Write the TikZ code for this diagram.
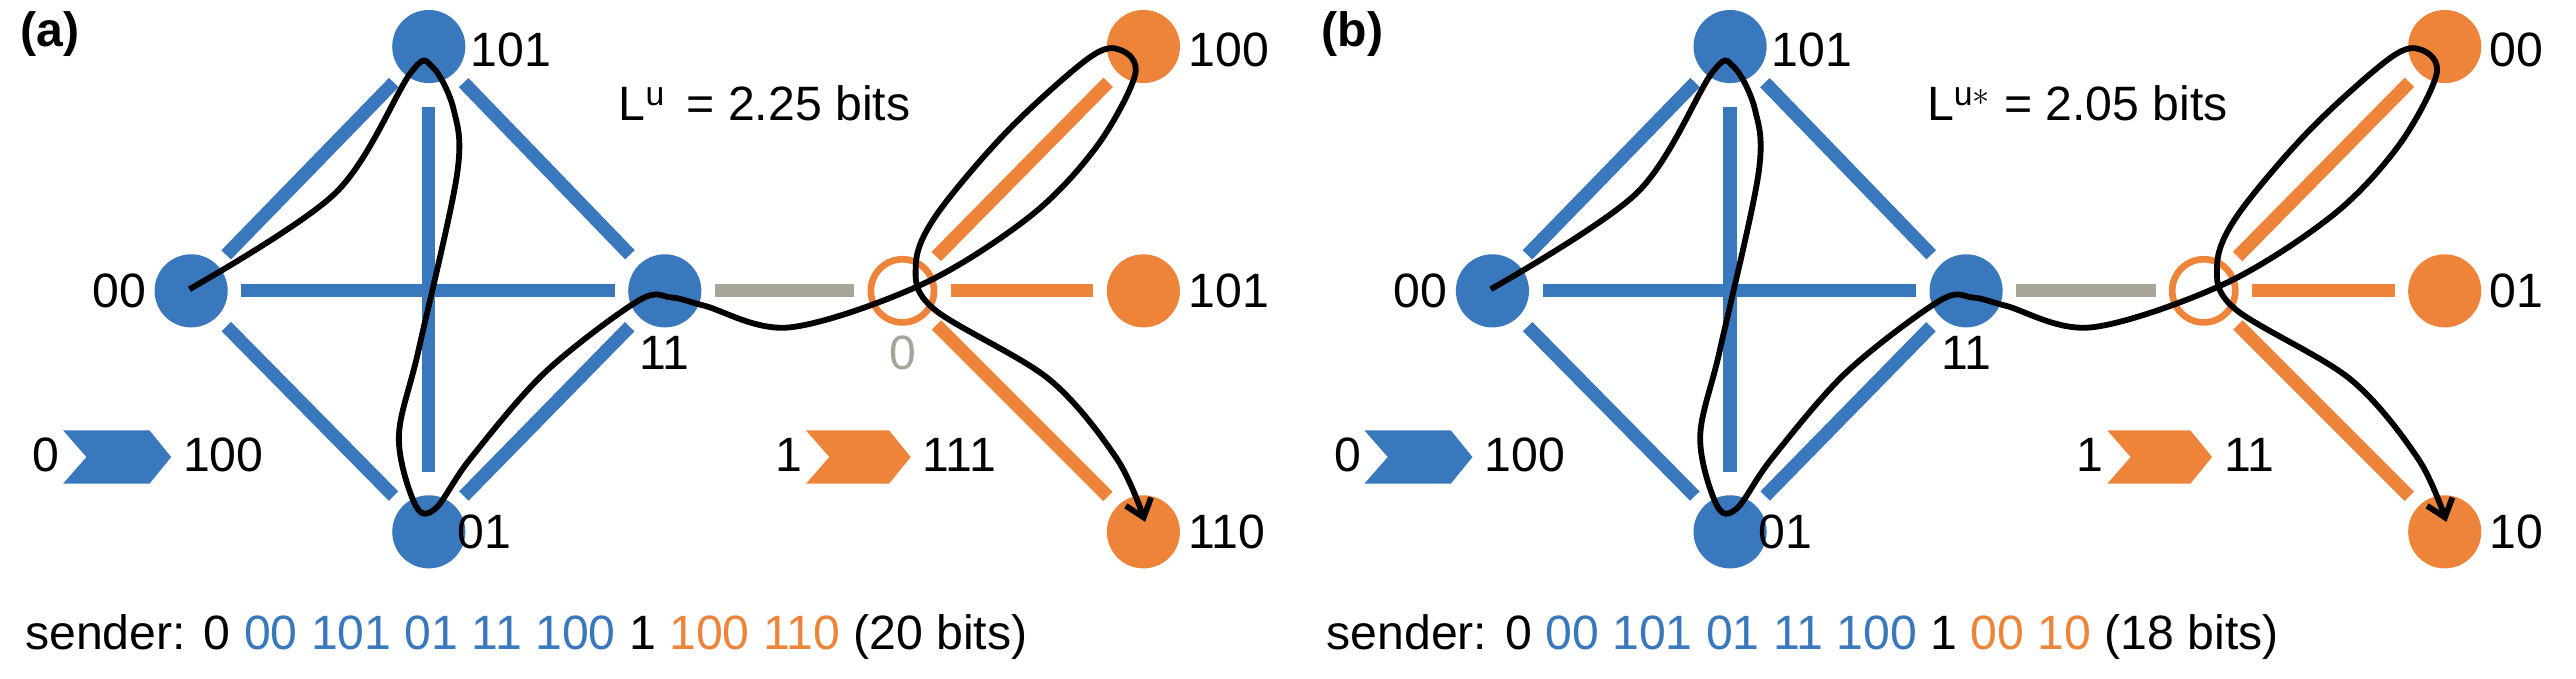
\documentclass[tikz,border=0pt]{standalone}
\usepackage{fontspec}
\setmainfont{Liberation Sans}
\usetikzlibrary{arrows.meta}
\definecolor{cb}{HTML}{3A78BE}
\definecolor{co}{HTML}{EE843A}
\definecolor{cg}{HTML}{A8A498}
\begin{document}
\begin{tikzpicture}[x=1pt,y=-1pt,
  font=\fontsize{29}{34}\selectfont,
  bn/.style={circle,fill=cb,minimum size=44pt,inner sep=0},
  on/.style={circle,fill=co,minimum size=44pt,inner sep=0},
  oo/.style={circle,draw=co,line width=4pt,fill=white,minimum size=38pt,inner sep=0},
  ed/.style={line width=8pt,shorten >=8pt,shorten <=8pt},
  cur/.style={black,line width=3.5pt},
  lab/.style={inner sep=0}]
\useasboundingbox (0,0) rectangle (1550,408);
\foreach \p/\dx in {a/0,b/783}{
\begin{scope}[xshift=\dx]
\node[bn] (\p-00) at (115,175) {};
\node[bn] (\p-101) at (258,28) {};
\node[bn] (\p-11) at (400,175) {};
\node[bn] (\p-01) at (258,320) {};
\node[oo] (\p-0) at (543,175) {};
\node[on] (\p-o1) at (688,28) {};
\node[on] (\p-o2) at (688,175) {};
\node[on] (\p-o3) at (688,320) {};
\draw[ed,cb] (\p-00)--(\p-101);
\draw[ed,cb] (\p-00)--(\p-11);
\draw[ed,cb] (\p-00)--(\p-01);
\draw[ed,cb,shorten >=14pt,shorten <=14pt] (\p-101)--(\p-01);
\draw[ed,cb] (\p-101)--(\p-11);
\draw[ed,cb] (\p-01)--(\p-11);
\draw[ed,cg] (\p-11)--(\p-0);
\draw[ed,co] (\p-0)--(\p-o1);
\draw[ed,co] (\p-0)--(\p-o2);
\draw[ed,co] (\p-0)--(\p-o3);
\node[lab,anchor=east] (\p-l00) at (88,175) {00};
\node[lab,anchor=west] (\p-l101) at (283,30) {101};
\node[lab,anchor=north] (\p-l11) at (400,202) {11};
\node[lab,anchor=west] (\p-l01) at (275,320) {01};
\fill[cb] (38,259) -- (90,259) -- (103,275) -- (90,291) -- (38,291) -- (52,275) -- cycle;
\node[lab,anchor=east] (\p-c0) at (36,274) {0};
\node[lab,anchor=west] (\p-c100) at (110,274) {100};
\fill[co] (485,259) -- (535,259) -- (548,275) -- (535,291) -- (485,291) -- (499,275) -- cycle;
\node[lab,anchor=east] (\p-c1) at (483,274) {1};
\draw[cur,-{Straight Barb[length=10pt,width=16pt]}] plot[smooth,tension=0.55] coordinates {
 (114,174) (202,116) (247,44) (260,40) (273,66) (275,105) (252,210) (240,263) (250,304) (262,306) (283,276) (328,224) (384,181) (404,179) (424,184) (475,197) (555,171) (620,130) (660,88) (683,45) (674,30) (655,35) (606,79) (563,130) (551,160) (562,186) (631,228) (672,276) (689,314)};
\end{scope}}
\node[lab,anchor=north west,font=\fontsize{29}{34}\selectfont\bfseries] (ta) at (12,7) {(a)};
\node[lab,anchor=north west,font=\fontsize{29}{34}\selectfont\bfseries] (tb) at (795,7) {(b)};
\node[lab,anchor=west] (aLO1) at (715,30) {100};
\node[lab,anchor=west] (aLO2) at (715,175) {101};
\node[lab,anchor=west] (aLO3) at (715,320) {110};
\node[lab,anchor=north,text=cg] (aL0) at (543,202) {0};
\node[lab,anchor=west] (ac111) at (555,274) {111};
\node[lab] (aLu) at (460,62) {L$^{\mathrm{u}}$\, = 2.25 bits};
\node[lab,anchor=west] (bLO1) at (1498,30) {00};
\node[lab,anchor=west] (bLO2) at (1498,175) {01};
\node[lab,anchor=west] (bLO3) at (1498,320) {10};
\node[lab,anchor=west] (bc11) at (1338,274) {11};
\node[lab] (bLu) at (1250,62) {L$^{\mathrm{u}*}$ = 2.05 bits};
\node[lab,anchor=west] (as) at (15,383) {sender: 0 \textcolor{cb}{00 101 01 11 100} 1 \textcolor{co}{100 110} (20 bits)};
\node[lab,anchor=west] (bs) at (798,383) {sender: 0 \textcolor{cb}{00 101 01 11 100} 1 \textcolor{co}{00 10} (18 bits)};
\end{tikzpicture}
\end{document}
